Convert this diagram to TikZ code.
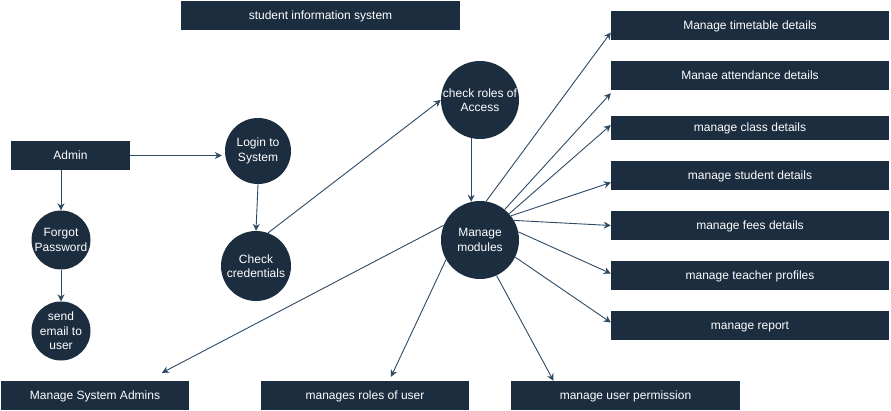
\documentclass[tikz,border=0pt]{standalone}
\usepackage{fontspec}
\setmainfont{Liberation Sans}
\usetikzlibrary{arrows.meta}

\definecolor{navy}{HTML}{1B2D3F}
\definecolor{linkcol}{HTML}{2E4A63}

\begin{document}
\begin{tikzpicture}[
    x=1pt, y=-1pt, % pixel-like coordinates, y pointing down
    >={Stealth[length=7pt,width=7pt]}, % Stealth arrow tips
    font=\fontsize{12}{14.5}\selectfont,
    box/.style={rectangle, fill=navy, text=white, inner sep=0pt, minimum height=29pt, text height=9pt, text depth=1pt}, % entity / module boxes
    process/.style={circle, fill=navy, text=white, inner sep=0pt, align=center}, % process bubbles
    flow/.style={->, line width=0.9pt, draw=linkcol} % data flow arrows
  ]

  \useasboundingbox (0,0) rectangle (891,411);

  % --- Title ---
  \node[box, minimum width=279pt] (title) at (320.5,15.5) {student information system};

  % --- Left part: admin and login ---
  \node[box, minimum width=119pt] (admin) at (70.5,155.5) {Admin};
  \node[process, minimum size=66pt] (login) at (258,151) {Login to\\System};
  \node[process, minimum size=70pt] (creds) at (256,266) {Check\\credentials};
  \node[process, minimum size=59pt] (forgot) at (61,240) {Forgot\\Password};
  \node[process, minimum size=59pt] (email) at (61,331) {send\\email to\\user};

  % --- Centre: access check and modules ---
  \node[process, minimum size=78pt] (roles) at (480,100) {check roles of\\Access};
  \node[process, minimum size=78pt] (mods) at (480,240) {Manage\\modules};

  % --- Right column of modules ---
  \node[box, minimum width=278pt] (time) at (750,25.5) {Manage timetable details};
  \node[box, minimum width=278pt] (att) at (750,75.5) {Manae attendance details};
  \node[box, minimum width=278pt, minimum height=24pt] (cls) at (750,128) {manage class details};
  \node[box, minimum width=278pt] (stu) at (750,175.5) {manage student details};
  \node[box, minimum width=278pt] (fee) at (750,225.5) {manage fees details};
  \node[box, minimum width=278pt] (tch) at (750,275.5) {manage teacher profiles};
  \node[box, minimum width=278pt] (rep) at (750,325.5) {manage report};

  % --- Bottom row ---
  \node[box, minimum width=188pt] (sadm) at (95,395.5) {Manage System Admins};
  \node[box, minimum width=208pt] (rusr) at (365,395.5) {manages roles of user};
  \node[box, minimum width=229pt] (uperm) at (625.5,395.5) {manage user permission};

  % --- Flows ---
  \draw[flow, shorten >=3pt] (admin.east) -- (admin.east -| login.west);
  \draw[flow] (admin.south -| forgot.north) -- (forgot.north);
  \draw[flow] (forgot.south) -- (email.north);
  \draw[flow] (login.south) -- (creds.north);
  \draw[flow] (creds.70) -- (roles.west);
  \draw[flow] (roles.257) -- (mods.103);

  % modules to the right column
  \draw[flow] (mods.81) -- ([yshift=-7pt]time.west);
  \draw[flow] (mods.51) -- ([yshift=-3pt]att.south west);
  \draw[flow] (mods.42) -- ([yshift=3pt]cls.west);
  \draw[flow] (mods.38) -- ([yshift=-7pt]stu.west);
  \draw[flow] (mods.30) -- (fee.west);
  \draw[flow] (mods.12) -- ([yshift=2pt]tch.west);
  \draw[flow] (mods.-26) -- ([yshift=3pt]rep.west);

  % modules to the bottom row
  \draw[flow] (mods.158) -- ([xshift=67pt,yshift=8pt]sadm.north);
  \draw[flow] (mods.210) -- ([xshift=26pt,yshift=4pt]rusr.north);
  \draw[flow] (mods.-65) -- ([xshift=-72pt]uperm.north);

\end{tikzpicture}
\end{document}
